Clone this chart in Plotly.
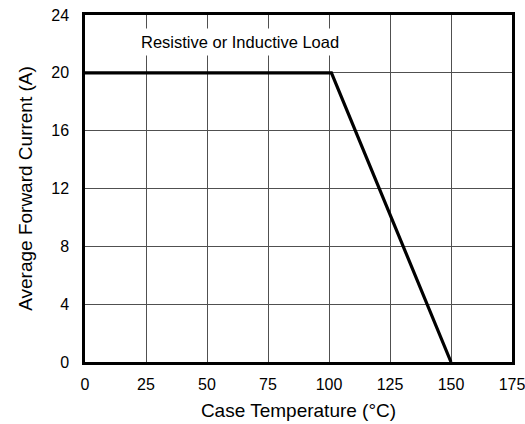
import plotly.graph_objects as go

temp_c = [0, 101, 150]
current_a = [20, 20, 0]
x_ticks = [0, 25, 50, 75, 100, 125, 150, 175]
y_ticks = [0, 4, 8, 12, 16, 20, 24]
label_text = "Resistive or Inductive Load"

fig = go.Figure()
fig.add_trace(go.Scatter(x=temp_c, y=current_a, mode="lines",
                         line=dict(color="black", width=3.2), showlegend=False,
                         cliponaxis=False))
fig.add_annotation(x=63.5, y=22.15, text=label_text, showarrow=False,
                   bgcolor="white", font=dict(size=16.5, color="black"),
                   borderpad=4)
axis_common = dict(showgrid=True, gridcolor="#505050", gridwidth=1,
                   showline=True, linecolor="black", linewidth=2.5, mirror=True,
                   zeroline=False, ticks="outside", tickcolor="rgba(0,0,0,0)",
                   tickfont=dict(size=16, color="black"), automargin=False,
                   ticklabeloverflow="allow")
fig.update_xaxes(range=[0, 175], tickvals=x_ticks, ticklen=6,
                 title=dict(text="Case Temperature (°C)", font=dict(size=19, color="black"), standoff=12),
                 **axis_common)
fig.update_yaxes(range=[0, 24], tickvals=y_ticks, ticklen=10,
                 title=dict(text="Average Forward Current (A)", font=dict(size=19, color="black"), standoff=14),
                 **axis_common)
fig.update_layout(width=525, height=424, margin=dict(l=85, r=13, t=15, b=62),
                  plot_bgcolor="white", paper_bgcolor="white",
                  font=dict(family="Liberation Sans, Arial, sans-serif", color="black"))
fig.write_html("out.html", config={"displayModeBar": False},
               post_script="document.body.style.margin='0';")
